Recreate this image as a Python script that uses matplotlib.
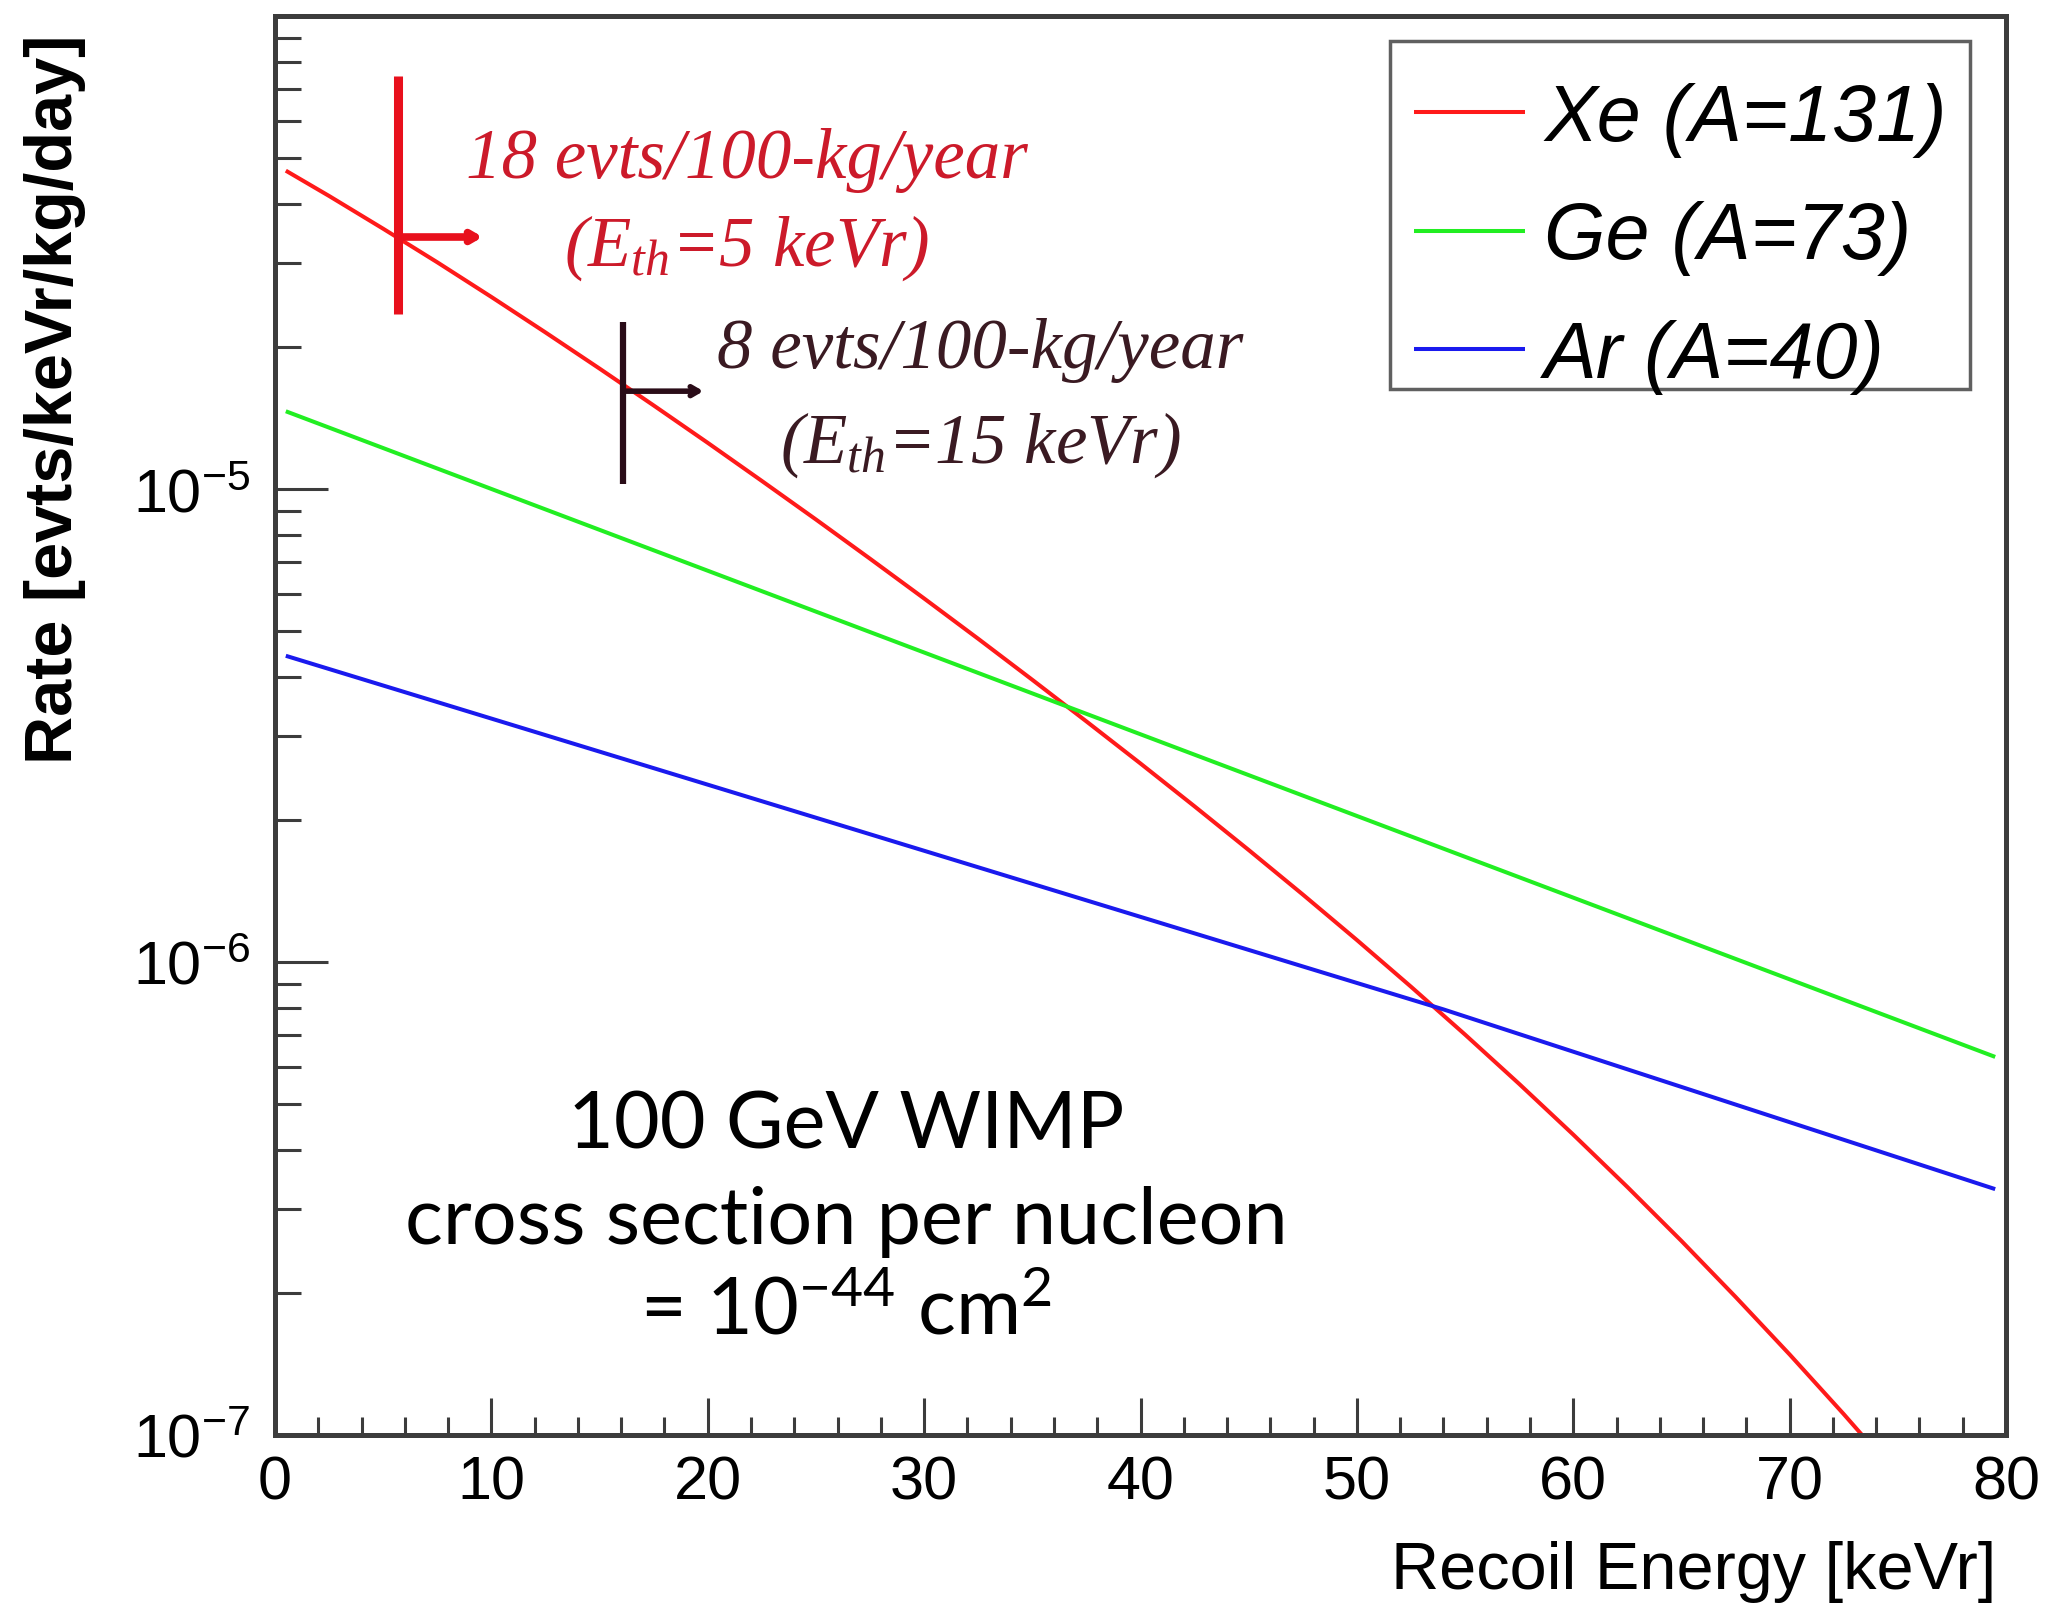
# WIMP recoil spectra for Xe, Ge and Ar targets
import numpy as np
import matplotlib.pyplot as plt
from matplotlib.patches import Rectangle
from matplotlib.ticker import LogLocator, MultipleLocator, NullFormatter

plt.rcParams['font.family'] = ['Liberation Sans', 'DejaVu Sans']
plt.rcParams['mathtext.fontset'] = 'custom'
plt.rcParams['mathtext.rm'] = 'Liberation Serif'
plt.rcParams['mathtext.it'] = 'Liberation Serif:italic'
plt.rcParams['axes.unicode_minus'] = False

# recoil energy [keVr] and rates [evts/keVr/kg/day]
xe_energy = [0.5, 2.5, 5, 7.5, 10, 12.5, 15, 17.5, 20, 22.5, 25, 27.5, 30, 32.5, 35, 37.5,
             40, 42.5, 45, 47.5, 50, 52.5, 55, 57.5, 60, 62.5, 65, 67.5, 70, 72.5, 75]
xe_rate = [4.710e-5, 4.164e-5, 3.550e-5, 3.015e-5, 2.547e-5, 2.143e-5, 1.797e-5, 1.502e-5,
           1.252e-5, 1.040e-5, 8.621e-6, 7.122e-6, 5.869e-6, 4.823e-6, 3.950e-6, 3.226e-6,
           2.628e-6, 2.133e-6, 1.725e-6, 1.389e-6, 1.113e-6, 8.867e-7, 7.023e-7, 5.525e-7,
           4.316e-7, 3.345e-7, 2.572e-7, 1.959e-7, 1.480e-7, 1.107e-7, 8.20e-8]
ge_energy = [0.5, 40, 79.5]
ge_rate = [1.46e-5, 3.03e-6, 6.3e-7]
ar_energy = [0.5, 54, 79.5]
ar_rate = [4.44e-6, 7.94e-7, 3.31e-7]

labels = ['Xe (A=131)', 'Ge (A=73)', 'Ar (A=40)']
colors = ['#ff1a1a', '#22ee22', '#1a1aee']

# threshold markers: energy, vertical extent, arrow height, arrow tip
xe_thr = [5.7, 2.34e-5, 7.47e-5, 3.41e-5, 9.6]
xe_thr_text = ['18 evts/100-kg/year', '($E_{th}$=5 keVr)']
hi_thr = [16.1, 1.025e-5, 2.25e-5, 1.61e-5, 19.8]
hi_thr_text = ['8 evts/100-kg/year', '($E_{th}$=15 keVr)']

fig = plt.figure(figsize=(20.5, 16.08), dpi=100)
ax = fig.add_axes([275 / 2050, 1 - 1436 / 1608, 1731 / 2050, 1419 / 1608])

for e, r, lab, c in zip([xe_energy, ge_energy, ar_energy], [xe_rate, ge_rate, ar_rate], labels, colors):
    ax.plot(e, r, color=c, lw=2.9, label=lab, solid_capstyle='butt')

ax.set_yscale('log')
ax.set_xlim(0, 80)
ax.set_ylim(1e-7, 1e-4)

# threshold markers
red_mark = '#e8101c'
ax.plot([xe_thr[0], xe_thr[0]], [xe_thr[1], xe_thr[2]], color=red_mark, lw=6.5, solid_capstyle='butt')
ax.annotate('', xy=(xe_thr[4], xe_thr[3]), xytext=(xe_thr[0], xe_thr[3]),
            arrowprops=dict(arrowstyle='->,head_length=0.55,head_width=0.32', color=red_mark, lw=5.5,
                            shrinkA=0, shrinkB=0))
dark_mark = '#2a0c18'
ax.plot([hi_thr[0], hi_thr[0]], [hi_thr[1], hi_thr[2]], color=dark_mark, lw=4.5, solid_capstyle='butt')
ax.annotate('', xy=(hi_thr[4], hi_thr[3]), xytext=(hi_thr[0], hi_thr[3]),
            arrowprops=dict(arrowstyle='->,head_length=0.55,head_width=0.32', color=dark_mark, lw=4,
                            shrinkA=0, shrinkB=0))

serif = dict(family='Liberation Serif', style='italic', fontsize=51, ha='center', va='center',
             transform=ax.transAxes)
ax.text(0.2727, 0.899, xe_thr_text[0], color='#cc1a2a', **serif)
ax.text(0.2727, 0.837, xe_thr_text[1], color='#cc1a2a', **serif)
ax.text(0.4073, 0.765, hi_thr_text[0], color='#3a1a22', **serif)
ax.text(0.4073, 0.698, hi_thr_text[1], color='#3a1a22', **serif)

# WIMP note
note = dict(family='Lato', fontsize=57, ha='center', va='center', color='black', transform=ax.transAxes)
ax.text(0.3301, 0.218, '100 GeV WIMP', **note)
ax.text(0.3301, 0.151, 'cross section per nucleon', **note)
ax.text(0.3301, 0.087, r'= $\mathregular{10^{-44}}$ cm$\mathregular{^2}$', **note)

# axes style, ROOT-like
frame = '#3c3c3c'
for s in ax.spines.values():
    s.set_color(frame)
    s.set_linewidth(3.6)

ax.xaxis.set_major_locator(MultipleLocator(10))
ax.xaxis.set_minor_locator(MultipleLocator(2))
ax.set_yticks([1e-7, 1e-6, 1e-5])
ax.yaxis.set_minor_locator(LogLocator(base=10, subs=np.arange(2, 10)))
ax.yaxis.set_minor_formatter(NullFormatter())
ax.tick_params(which='both', direction='in', top=False, right=False, color=frame, labelsize=44)
ax.tick_params(axis='x', which='major', length=27, width=2.2, pad=14)
ax.tick_params(axis='x', which='minor', length=13, width=2.2)
ax.tick_params(axis='y', which='major', length=38, width=2.2, pad=18)
ax.tick_params(axis='y', which='minor', length=19, width=2.2)

fig.text(1996 / 2050, 1 - 1572 / 1608, 'Recoil Energy [keVr]', fontsize=48, ha='right', va='center')
fig.text(55 / 2050, 1 - 399 / 1608, 'Rate [evts/keVr/kg/day]', fontsize=48, fontweight='bold',
         rotation=90, ha='center', va='center')

# legend: frameless entries inside a separate ROOT-style box
box = Rectangle((0.6441, 0.7371), 0.3351, 0.2453, transform=ax.transAxes, fill=True,
                facecolor='white', edgecolor='#606060', lw=2.5, zorder=4)
ax.add_patch(box)
leg = ax.legend(loc='upper left', bbox_to_anchor=(0.6441, 0.9704), borderaxespad=0, frameon=False,
                prop=dict(family='Liberation Sans', style='italic', size=57),
                handlelength=1.4, handletextpad=0.25, labelspacing=0.55, borderpad=0.3)
leg.set_zorder(5)

plt.savefig('out.png', dpi=100)
